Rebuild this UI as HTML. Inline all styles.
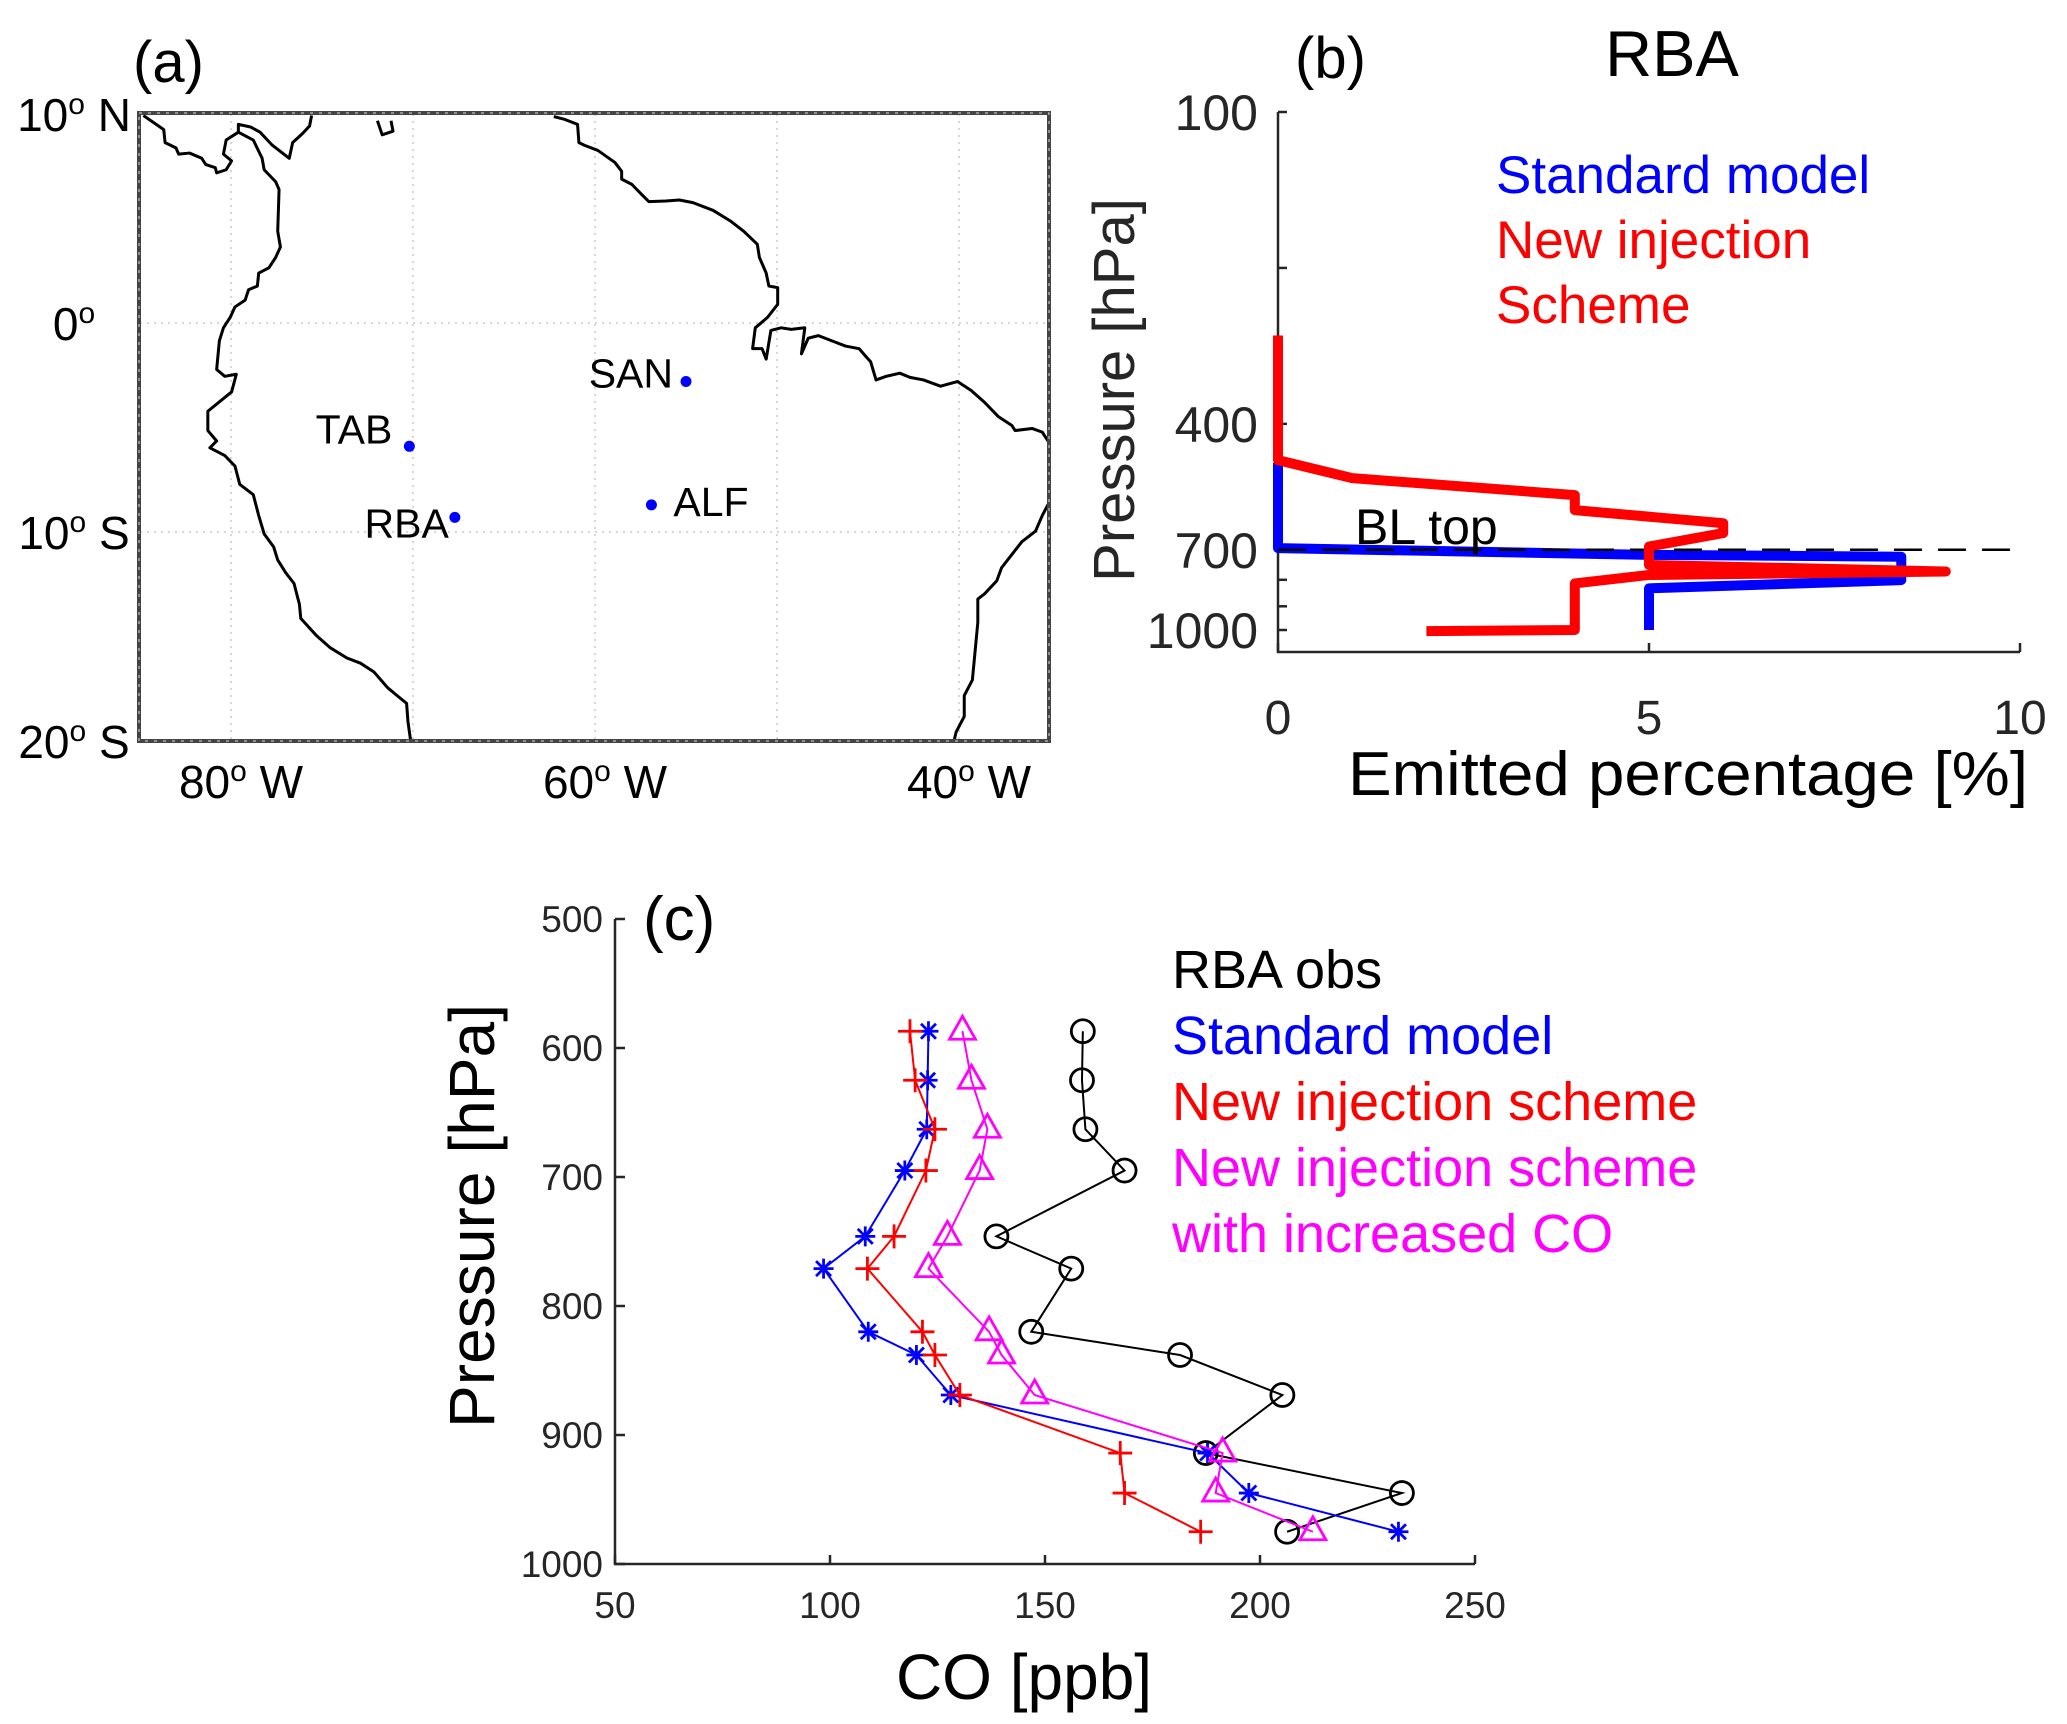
<!DOCTYPE html>
<html><head><meta charset="utf-8"><style>
html,body{margin:0;padding:0;background:#fff}
svg{display:block;font-family:"Liberation Sans",Arial,sans-serif}
</style></head><body>
<svg id="fig" width="2067" height="1724" viewBox="0 0 2067 1724" xmlns="http://www.w3.org/2000/svg">
<rect width="2067" height="1724" fill="#fff"/>

<!-- Panel (a) map -->
<g id="panelA">
  <text x="133" y="82" font-size="58" fill="#000">(a)</text>
  <g id="gridA" stroke="#c8c8c8" stroke-width="1.5" stroke-dasharray="2,5" fill="none"></g>
  <g transform="translate(0.92,1.8) scale(0.6784,0.5216)" fill="none" stroke="#000" stroke-width="3" stroke-linejoin="round">
    <path vector-effect="non-scaling-stroke" d="M210,218 L240,245 L242,270 L258,280 L262,292 L278,290 L296,300 L302,312 L316,318 L318,328 L332,322 L340,305 L328,292 L332,265 L350,250 L350,235 L368,240 L382,250 L400,275 L425,300 L430,270 L445,252 L455,238 L458,218"/>
    <path vector-effect="non-scaling-stroke" d="M350,250 L372,265 L385,300 L388,322 L405,345 L410,360 L408,440 L412,470 L405,490 L395,510 L380,520 L378,545 L365,552 L360,572 L345,585 L338,605 L328,625 L322,650 L318,705 L330,718 L347,714 L340,748 L305,785 L305,822 L318,842 L308,855 L330,870 L345,890 L352,925 L372,945 L380,985 L388,1020 L402,1045 L408,1070 L420,1095 L432,1115 L440,1155 L442,1182 L465,1215 L485,1238 L510,1258 L530,1268 L550,1285 L570,1315 L582,1328 L598,1345 L600,1380 L604,1417"/>
    <path vector-effect="non-scaling-stroke" d="M555,228 L562,255 L578,248 L575,228"/>
    <path vector-effect="non-scaling-stroke" d="M815,220 L830,225 L850,235 L852,270 L860,275 L880,285 L905,308 L915,325 L915,340 L930,350 L945,370 L955,383 L980,382 L1000,380 L1020,385 L1050,400 L1075,420 L1095,440 L1115,465 L1118,490 L1128,520 L1132,545 L1145,548 L1145,580 L1130,605 L1112,625 L1108,665 L1122,665 L1128,685 L1135,630 L1150,625 L1165,628 L1185,625 L1180,675 L1190,645 L1205,640 L1225,650 L1245,660 L1265,665 L1275,680 L1282,690 L1290,725 L1305,718 L1325,712 L1340,720 L1360,725 L1385,737 L1410,728 L1430,745 L1450,768 L1470,795 L1490,812 L1495,822 L1520,818 L1535,825 L1545,845"/>
    <path vector-effect="non-scaling-stroke" d="M1545,960 L1535,985 L1525,1015 L1505,1035 L1490,1060 L1475,1085 L1468,1110 L1450,1135 L1440,1145 L1440,1190 L1432,1300 L1420,1330 L1420,1370 L1408,1400 L1405,1417"/>
  </g>
  <rect x="139" y="113" width="910" height="628" fill="none" stroke="#444" stroke-width="4"/>
  <rect x="139" y="113" width="910" height="628" fill="none" stroke="#ddd" stroke-width="1" stroke-dasharray="3,6"/>
  <g id="labelsA" font-size="46" fill="#000" text-anchor="middle"></g>
  <g id="stations"></g>
</g>

<!-- Panel (b) -->
<g id="panelB">
  <text x="1295" y="78" font-size="58" fill="#000">(b)</text>
  <text x="1672" y="76" font-size="65" fill="#000" text-anchor="middle">RBA</text>
  <g id="axesB"></g>
  <g id="seriesB"></g>
  <text x="1496" y="193" font-size="53" fill="#0000ff">Standard model</text>
  <text x="1496" y="258" font-size="53" fill="#ff0000">New injection</text>
  <text x="1496" y="323" font-size="53" fill="#ff0000">Scheme</text>
  <text x="1355" y="544" font-size="50" fill="#000">BL top</text>
  <text x="1688" y="795" font-size="62" fill="#000" text-anchor="middle" textLength="680" lengthAdjust="spacingAndGlyphs">Emitted percentage [%]</text>
  <text transform="translate(1134,390) rotate(-90)" font-size="58" fill="#262626" text-anchor="middle">Pressure [hPa]</text>
</g>

<!-- Panel (c) -->
<g id="panelC">
  <text x="643" y="940" font-size="62" fill="#000">(c)</text>
  <g id="axesC"></g>
  <g id="seriesC"></g>
  <text x="1172" y="988" font-size="54" fill="#000">RBA obs</text>
  <text x="1172" y="1054" font-size="54" fill="#0000ff">Standard model</text>
  <text x="1172" y="1120" font-size="54" fill="#ff0000">New injection scheme</text>
  <text x="1172" y="1186" font-size="54" fill="#ff00ff">New injection scheme</text>
  <text x="1172" y="1252" font-size="54" fill="#ff00ff">with increased CO</text>
  <text x="1024" y="1699" font-size="64" fill="#000" text-anchor="middle">CO [ppb]</text>
  <text transform="translate(494,1216) rotate(-90)" font-size="64" fill="#000" text-anchor="middle" textLength="424" lengthAdjust="spacingAndGlyphs">Pressure [hPa]</text>
</g>
</svg>
<script>
// ---- Panel (a) data ----
const stationNames = ["SAN", "TAB", "RBA", "ALF"];
const stationLon = [-55.0, -70.2, -67.7, -56.9];
const stationLat = [-2.8, -5.9, -9.3, -8.7];
const lonTicks = [-80, -60, -40];
const lonTickLabels = ["80", "60", "40"];
const latTicks = [10, 0, -10, -20];
const latTickLabels = ["10", "0", "10", "20"];
const latTickSuffix = [" N", "", " S", " S"];

// ---- Panel (b) data ----
const bRedPct = [0, 0, 1, 4, 4, 6, 6, 5, 5, 9, 5, 4, 4, 2];
const bRedP = [270, 470, 509, 549, 587, 622, 650, 690, 749, 771, 783, 813, 1000, 1005];
const bBluePct = [0, 0, 5, 8.4, 8.4, 5, 5];
const bBlueP = [476, 695, 716, 722, 801, 831, 1000];
const blTop = 700;
const bXTicks = [0, 5, 10];
const bYTicks = [100, 400, 700, 1000];
const bYMinor = [200, 800, 900];

// ---- Panel (c) data ----
const cLevels = [587, 625, 663, 695, 746, 771, 820, 838, 869, 914, 945, 975];
const cObs = [158.8, 158.6, 159.4, 168.5, 138.7, 156.1, 146.8, 181.4, 205.2, 187.4, 233.0, 206.3];
const cStd = [122.9, 122.7, 122.5, 117.4, 108.2, 98.5, 108.9, 120.1, 128.1, 187.8, 197.4, 232.2];
const cNew = [118.6, 119.8, 124.4, 122.3, 114.9, 108.7, 121.5, 124.4, 130.2, 167.5, 168.5, 186.2];
const cNewCO = [130.8, 132.9, 136.6, 134.8, 127.3, 122.9, 137.0, 139.9, 147.6, 191.3, 189.7, 212.3];
const cXTicks = [50, 100, 150, 200, 250];
const cYTicks = [500, 600, 700, 800, 900, 1000];

const NS = "http://www.w3.org/2000/svg";
function mk(tag, attrs, parent) {
  const e = document.createElementNS(NS, tag);
  for (const k in attrs) e.setAttribute(k, attrs[k]);
  parent.appendChild(e);
  return e;
}

// ---- Panel (a) ----
const lonX = lon => 140 + (lon + 85) * 18.2;
const latY = lat => 114 + (10 - lat) * 20.9;
const gridA = document.getElementById('gridA');
[-80, -70, -60, -50, -40].forEach(l => {
  const ln = mk('line', {x1: lonX(l), x2: lonX(l), y1: 114, y2: 741}, gridA);
  
  
});
[0, -10].forEach(l => {
  const ln = mk('line', {x1: 140, x2: 1049, y1: latY(l), y2: latY(l)}, gridA);
  
  
});
const labelsA = document.getElementById('labelsA');
lonTicks.forEach((l, i) => {
  const t = mk('text', {x: lonX(l) + 10, y: 798}, labelsA);
  
  
  t.innerHTML = lonTickLabels[i] + '<tspan font-size="30" dy="-17">o</tspan><tspan dy="17"> W</tspan>';
});
latTicks.forEach((l, i) => {
  const t = mk('text', {x: 74, y: latY(l) + 17}, labelsA);
  
  
  t.innerHTML = latTickLabels[i] + '<tspan font-size="30" dy="-17">o</tspan><tspan dy="17">' + latTickSuffix[i] + '</tspan>';
});
const stations = document.getElementById('stations');
const labOff = {SAN: [-13, 6, 'end'], TAB: [-17, -3, 'end'], RBA: [-6, 20, 'end'], ALF: [22, 11, 'start']};
stationNames.forEach((n, i) => {
  const x = lonX(stationLon[i]), y = latY(stationLat[i]);
  const c = mk('circle', {cx: x, cy: y, r: 5.5, fill: '#0000ff'}, stations);
  
  
  const o = labOff[n];
  const t = mk('text', {x: x + o[0], y: y + o[1], 'font-size': 41, fill: '#000', 'text-anchor': o[2]}, stations);
  
  
  t.textContent = n;
});

// ---- Panel (b) ----
const bx = v => 1278 + v * 74.2;
const by = p => 112 + 518 * Math.log10(p / 100);
const axesB = document.getElementById('axesB');
const B0 = 652;
let e;
e = mk('path', {d: `M1278,${by(100)} L1278,${B0} L${bx(10)},${B0}`, fill: 'none', stroke: '#262626', 'stroke-width': 2.5}, axesB);


bXTicks.forEach(v => {
  const l = mk('line', {x1: bx(v), x2: bx(v), y1: B0, y2: B0 - 9, stroke: '#262626', 'stroke-width': 2.5}, axesB);
  
  
  const t = mk('text', {x: bx(v), y: 734, 'font-size': 48, fill: '#262626', 'text-anchor': 'middle'}, axesB);
  
  
  t.textContent = v;
});
bYTicks.concat(bYMinor).forEach(p => {
  const l = mk('line', {x1: 1278, x2: 1287, y1: by(p), y2: by(p), stroke: '#262626', 'stroke-width': 2.5}, axesB);
  
  
});
bYTicks.forEach(p => {
  const t = mk('text', {x: 1258, y: by(p) + 18, 'font-size': 50, fill: '#262626', 'text-anchor': 'end'}, axesB);
  
  
  t.textContent = p;
});
const seriesB = document.getElementById('seriesB');
e = mk('path', {d: bBluePct.map((v, i) => (i ? 'L' : 'M') + bx(v) + ',' + by(bBlueP[i])).join(' '), fill: 'none', stroke: '#0000ff', 'stroke-width': 10, 'stroke-linejoin': 'round'}, seriesB);


e = mk('line', {x1: 1278, x2: bx(10), y1: by(blTop), y2: by(blTop), stroke: '#000', 'stroke-width': 2.5, 'stroke-dasharray': '28,16'}, seriesB);


e = mk('path', {d: bRedPct.map((v, i) => (i ? 'L' : 'M') + bx(v) + ',' + by(bRedP[i])).join(' '), fill: 'none', stroke: '#ff0000', 'stroke-width': 10, 'stroke-linejoin': 'round'}, seriesB);



// ---- Panel (c) ----
const cx = v => 615 + (v - 50) * 4.3;
const cy = p => 1048 + (p - 600) * 1.29;
const axesC = document.getElementById('axesC');
const C0 = cy(1000);
e = mk('path', {d: `M615,${cy(500)} L615,${C0} L${cx(250)},${C0}`, fill: 'none', stroke: '#262626', 'stroke-width': 2.5}, axesC);


cXTicks.forEach(v => {
  const l = mk('line', {x1: cx(v), x2: cx(v), y1: C0, y2: C0 - 9, stroke: '#262626', 'stroke-width': 2.5}, axesC);
  
  
  const t = mk('text', {x: cx(v), y: 1618, 'font-size': 37, fill: '#262626', 'text-anchor': 'middle'}, axesC);
  
  
  t.textContent = v;
});
cYTicks.forEach(p => {
  const l = mk('line', {x1: 615, x2: 625, y1: cy(p), y2: cy(p), stroke: '#262626', 'stroke-width': 2.5}, axesC);
  
  
  const t = mk('text', {x: 603, y: cy(p) + 13, 'font-size': 37, fill: '#262626', 'text-anchor': 'end'}, axesC);
  
  
  t.textContent = p;
});
const seriesC = document.getElementById('seriesC');
function drawSeries(vals, color, marker, name) {
  const g = mk('g', {}, seriesC);
  
  
  const ln = mk('path', {d: vals.map((v, i) => (i ? 'L' : 'M') + cx(v) + ',' + cy(cLevels[i])).join(' '), fill: 'none', stroke: color, 'stroke-width': 2}, g);
  
  
  vals.forEach((v, i) => {
    const x = cx(v), y = cy(cLevels[i]);
    let m;
    if (marker === 'o') m = mk('circle', {cx: x, cy: y, r: 11.5, fill: 'none', stroke: color, 'stroke-width': 2.8}, g);
    else if (marker === '+') m = mk('path', {d: `M${x-12},${y} L${x+12},${y} M${x},${y-12} L${x},${y+12}`, stroke: color, 'stroke-width': 2.8, fill: 'none'}, g);
    else if (marker === '*') m = mk('path', {d: `M${x-10},${y} L${x+10},${y} M${x},${y-10} L${x},${y+10} M${x-7.5},${y-7.5} L${x+7.5},${y+7.5} M${x-7.5},${y+7.5} L${x+7.5},${y-7.5}`, stroke: color, 'stroke-width': 2.8, fill: 'none'}, g);
    else m = mk('path', {d: `M${x},${y-15} L${x+13},${y+8} L${x-13},${y+8} Z`, stroke: color, 'stroke-width': 2.8, fill: 'none'}, g);
    
    
  });
}
drawSeries(cObs, '#000000', 'o', 'rba-obs');
drawSeries(cStd, '#0000ff', '*', 'standard-model');
drawSeries(cNew, '#ff0000', '+', 'new-injection');
drawSeries(cNewCO, '#ff00ff', '^', 'new-injection-increased-co');
</script>
</body></html>
